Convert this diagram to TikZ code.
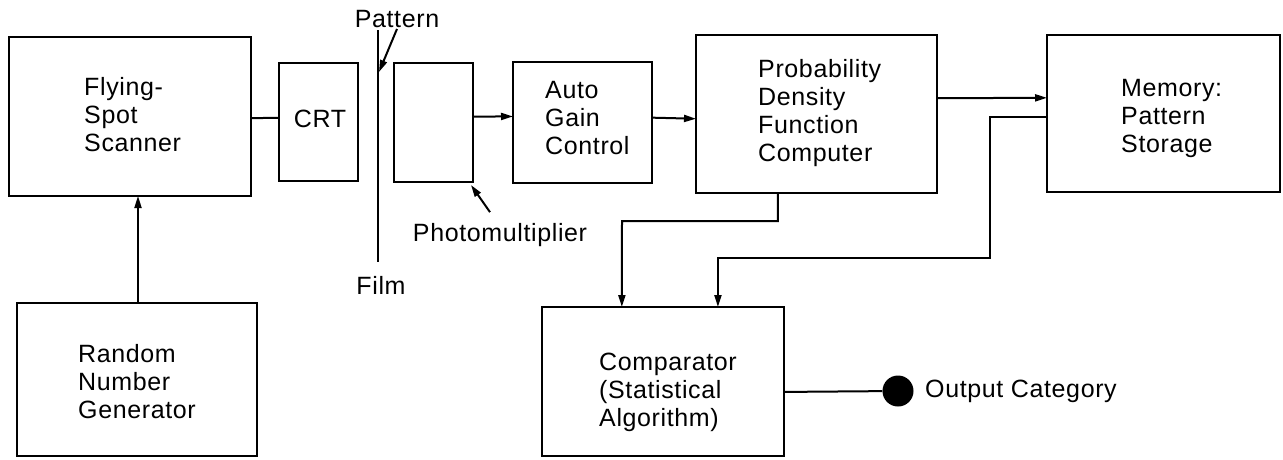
\documentclass[tikz,border=0pt]{standalone}
\usepackage{fontspec}
\setmainfont[LetterSpace=2.5]{Liberation Sans}
\usetikzlibrary{arrows.meta,calc}
\begin{document}
\begin{tikzpicture}[x=1pt,y=-1pt,
  blk/.style={draw,line width=2.6pt,minimum width=#1,inner sep=0pt,outer sep=0pt},
  lbl/.style={inner sep=0pt,align=left,font=\fontsize{25}{28}\selectfont},
  conn/.style={line width=2pt},
  arr/.style={line width=2pt,-{Triangle[length=12pt,width=7pt]}}]
\useasboundingbox (0,0) rectangle (1283,459);
% boxes
\node[blk=242pt,minimum height=159pt] (fss) at (130,116.5) {};
\node[blk=79pt,minimum height=118pt] (crt) at (318.5,122) {};
\node[blk=240pt,minimum height=153pt] (rng) at (137,379.5) {};
\node[blk=79pt,minimum height=119pt] (pm) at (433.5,122.5) {};
\node[blk=139pt,minimum height=121pt] (agc) at (582.5,122.5) {};
\node[blk=241pt,minimum height=158pt] (pdf) at (816.5,114) {};
\node[blk=233pt,minimum height=157pt] (mem) at (1163.5,113.5) {};
\node[blk=242pt,minimum height=149pt] (cmp) at (663,381.5) {};
% box texts
\node[lbl,anchor=west] (fsst) at (84,115) {Flying-\\Spot\\Scanner};
\node[lbl] (crtt) at (320,119) {CRT};
\node[lbl,anchor=west] (rngt) at (78,382) {Random\\Number\\Generator};
\node[lbl,anchor=west] (agct) at (545,118) {Auto\\Gain\\Control};
\node[lbl,anchor=west] (pdft) at (758,113) {Probability\\Density\\Function\\Computer};
\node[lbl,anchor=west] (memt) at (1121,118) {Memory:\\Pattern\\Storage};
\node[lbl,anchor=west] (cmpt) at (599,392) {Comparator\\(Statistical\\Algorithm)};
% free labels
\node[lbl] (pat) at (397,19) {Pattern};
\node[lbl] (film) at (381,285) {Film};
\node[lbl] (pml) at (500,235) {Photomultiplier};
\node[circle,fill=black,minimum size=31pt,inner sep=0pt] (dot) at (898,391) {};
\node[lbl,anchor=west] (out) at (925,391) {Output Category};
% film
\coordinate (filmtop) at (378,30);
\coordinate (filmbot) at (378,262);
\draw[line width=2.8pt] (filmtop) -- (filmbot);
\coordinate (pattip) at (379,72);
% connectors
\draw[conn] ($(fss.north east)!0.51!(fss.south east)$) -- ($(crt.north west)!0.465!(crt.south west)$);
\draw[arr] (rng.north -| 138,0) -- (fss.south -| 138,0);
\draw[arr] ($(pat.south)+(0,1)$) -- (pattip);
\draw[arr] ($(pm.north east)!0.45!(pm.south east)$) -- ($(agc.north west)!0.45!(agc.south west)$);
\draw[arr] ($(pml.north)+(-10,-11)$) -- ($(pm.south east)+(-2,3)$);
\draw[arr] ($(agc.north east)!0.46!(agc.south east)$) -- ($(pdf.north west)!0.53!(pdf.south west)$);
\draw[arr] ($(pdf.north east)!0.4!(pdf.south east)$) -- ($(mem.north west)!0.4!(mem.south west)$);
\coordinate (c1) at (990,258);
\draw[arr] ($(mem.north west)!0.52!(mem.south west)$) -| (c1) -| ($(cmp.north west)!0.727!(cmp.north east)$);
\coordinate (c2) at (622,221);
\draw[arr] ($(pdf.south west)!0.34!(pdf.south east)$) |- (c2) -- ($(cmp.north west)!0.33!(cmp.north east)$);
\draw[conn] ($(cmp.north east)!0.57!(cmp.south east)$) -- (dot);
\end{tikzpicture}
\end{document}
